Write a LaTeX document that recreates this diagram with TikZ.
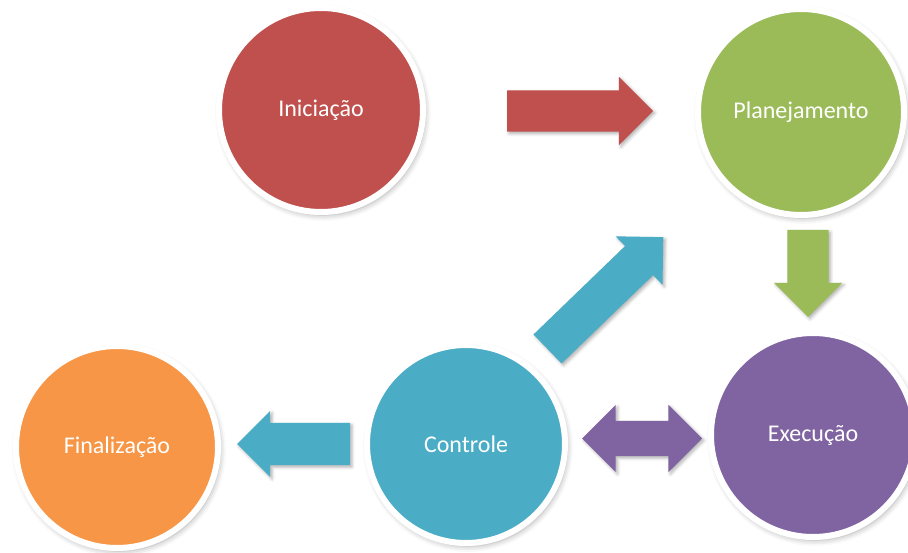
\documentclass[tikz,border=0pt]{standalone}
\usepackage{fontspec}
\setmainfont{Carlito}
\usetikzlibrary{shapes.arrows,shadows.blur}
\definecolor{cred}{HTML}{C0504D}
\definecolor{cgreen}{HTML}{9BBB59}
\definecolor{cpurple}{HTML}{8064A2}
\definecolor{cblue}{HTML}{4BACC6}
\definecolor{corange}{HTML}{F79646}
\tikzset{
  phase/.style={circle, draw=white, line width=6pt, inner sep=0pt,
    text=white, font=\fontsize{24}{29}\selectfont,
    blur shadow={shadow xshift=2pt, shadow yshift=-3pt, shadow blur radius=6pt, shadow opacity=35}},
  blockarrow/.style={single arrow, anchor=tail, inner xsep=0pt, outer sep=0pt, draw=none,
    single arrow tip angle=90, single arrow head indent=0pt,
    blur shadow={shadow xshift=2pt, shadow yshift=-2pt, shadow blur radius=3pt, shadow opacity=30}},
  dblarrow/.style={double arrow, inner xsep=0pt, outer sep=0pt, draw=none,
    double arrow tip angle=90, double arrow head indent=0pt,
    blur shadow={shadow xshift=2pt, shadow yshift=-2pt, shadow blur radius=3pt, shadow opacity=30}}
}
\begin{document}
\begin{tikzpicture}[x=1pt, y=-1pt]
\useasboundingbox (0,0) rectangle (908,553);
% circles
\node[phase, fill=cred, minimum size=204pt] (ini) at (321,110) {Iniciação};
\node[phase, fill=cgreen, minimum size=206pt] (plan) at (801,112) {Planejamento};
\node[phase, fill=cpurple, minimum size=204pt] (exe) at (813,435) {Execução};
\node[phase, fill=cblue, minimum size=198pt] (ctrl) at (466,444) {Controle};
\node[phase, fill=corange, minimum size=202pt] (fin) at (117,447) {Finalização};
% arrows
\node[blockarrow, fill=cred, minimum height=146pt, inner ysep=20.5pt,
  single arrow head extend=13.5pt] (a1) at (507,111) {};
\node[blockarrow, fill=cgreen, minimum height=87pt, inner ysep=20.5pt,
  single arrow head extend=13.5pt, rotate=-90] (a2) at (808,230) {};
\node[blockarrow, fill=cblue, minimum height=161pt, inner ysep=20pt,
  single arrow head extend=13.5pt, rotate=44] (a3) at (547.5,349) {};
\node[dblarrow, fill=cpurple, minimum height=120pt, inner ysep=17.5pt,
  double arrow head extend=16pt] (a4) at (642,438.5) {};
\node[blockarrow, fill=cblue, minimum height=113pt, inner ysep=21pt,
  single arrow head extend=12pt, rotate=180] (a5) at (350,444) {};
\end{tikzpicture}
\end{document}
